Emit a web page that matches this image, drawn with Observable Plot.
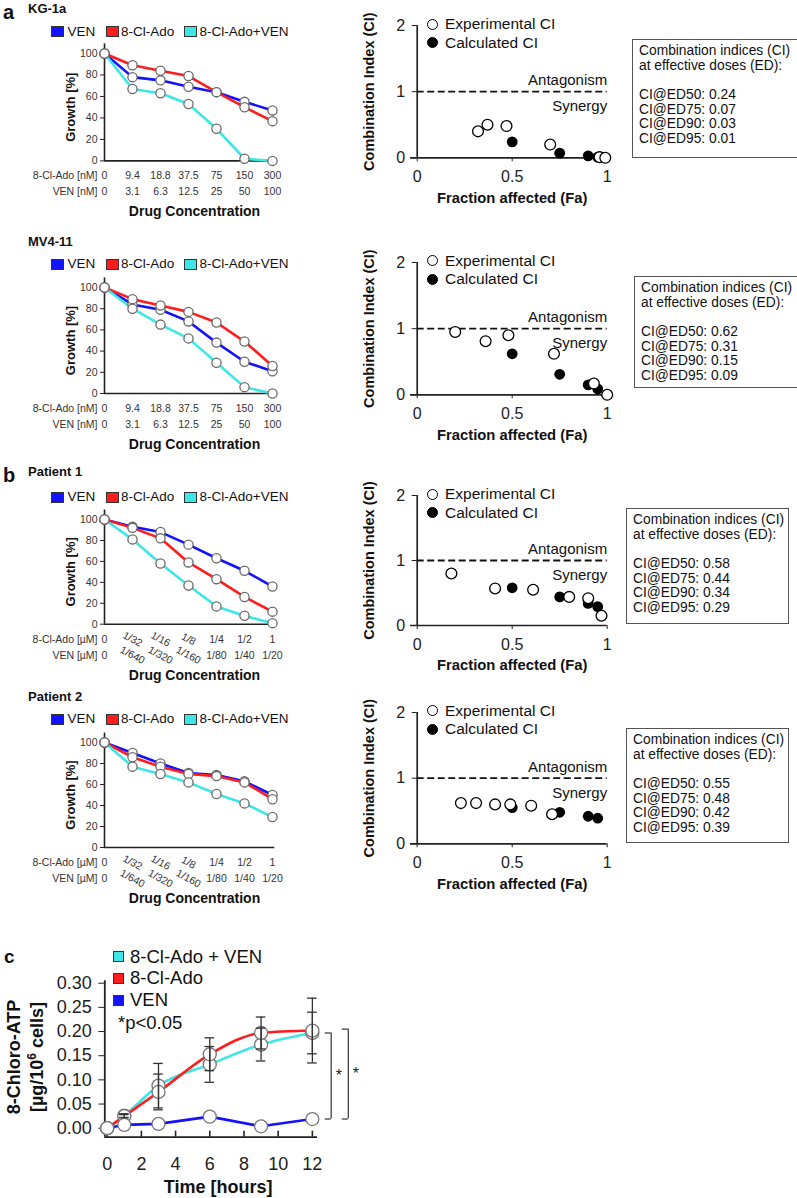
<!DOCTYPE html>
<html>
<head>
<meta charset="utf-8">
<script src="https://cdn.jsdelivr.net/npm/d3@7"></script>
<script src="https://cdn.jsdelivr.net/npm/@observablehq/plot@0.6"></script>
<style>
html,body{margin:0;padding:0;background:#fff;}
#fig{position:relative;width:797px;height:1198px;overflow:hidden;font-family:Arial,"Liberation Sans",Helvetica,sans-serif;color:#111;}
#fig .t{position:absolute;white-space:nowrap;transform:translateY(-50%);line-height:1.15;}
#fig .p{position:absolute;}
.sw{position:absolute;box-sizing:border-box;border:1px solid #333;}
.box{position:absolute;box-sizing:border-box;border:1.5px solid #555;font-size:13.8px;line-height:14.6px;padding:4.4px 0 0 6px;white-space:nowrap;}
.circ{position:absolute;box-sizing:border-box;border-radius:50%;border:1.4px solid #000;}
</style>
</head>
<body>
<div id="fig"></div>
<script>
// ================= DATA =================
const seriesNames = ["VEN", "8-Cl-Ado", "8-Cl-Ado+VEN"];
const seriesColors = ["#1212ff", "#ff1c1c", "#3fe6e6"];

const kgAdoLabels = ["0", "9.4", "18.8", "37.5", "75", "150", "300"];
const kgVenLabels = ["0", "3.1", "6.3", "12.5", "25", "50", "100"];
const ptAdoLabels = ["0", "1/32", "1/16", "1/8", "1/4", "1/2", "1"];
const ptVenLabels = ["0", "1/640", "1/320", "1/160", "1/80", "1/40", "1/20"];

// Growth [%]
const kg1aVEN   = [100, 78, 75, 69, 64, 55, 47];
const kg1aAdo   = [100, 89, 84, 79, 64, 50, 37];
const kg1aCombo = [100, 67, 63, 53, 30, 2, 0];
const mv411VEN   = [100, 84, 79, 68, 48, 30, 21];
const mv411Ado   = [100, 89, 83, 77, 67, 49, 26];
const mv411Combo = [100, 80, 65, 52, 29, 6, 0];
const pt1VEN   = [100, 93, 88, 76, 63, 51, 36];
const pt1Ado   = [100, 92, 82, 59, 43, 26, 12];
const pt1Combo = [100, 81, 58, 37, 17, 8, 1];
const pt2VEN   = [100, 90, 80, 71, 69, 63, 50];
const pt2Ado   = [100, 86, 77, 70, 68, 62, 46];
const pt2Combo = [100, 77, 70, 62, 51, 42, 29];

// Combination index: experimental (Fa, CI) and calculated at effective doses
const edLabels = ["ED50", "ED75", "ED90", "ED95"];
const edFa = [0.50, 0.75, 0.90, 0.95];
const kg1aExpFa = [0.32, 0.37, 0.47, 0.70, 0.96, 0.99];
const kg1aExpCI = [0.40, 0.50, 0.48, 0.20, 0.01, 0.00];
const kg1aCalcCI = [0.24, 0.07, 0.03, 0.01];
const mv411ExpFa = [0.20, 0.36, 0.48, 0.72, 0.93, 1.00];
const mv411ExpCI = [0.95, 0.81, 0.90, 0.62, 0.17, 0.00];
const mv411CalcCI = [0.62, 0.31, 0.15, 0.09];
const pt1ExpFa = [0.18, 0.41, 0.61, 0.80, 0.90, 0.97];
const pt1ExpCI = [0.80, 0.57, 0.55, 0.44, 0.42, 0.15];
const pt1CalcCI = [0.58, 0.44, 0.34, 0.29];
const pt2ExpFa = [0.23, 0.31, 0.41, 0.49, 0.60, 0.71];
const pt2ExpCI = [0.62, 0.62, 0.60, 0.60, 0.58, 0.45];
const pt2CalcCI = [0.55, 0.48, 0.42, 0.39];

// Panel c: 8-Chloro-ATP [ug/10^6 cells]
const cTime = [0, 1, 3, 6, 9, 12];
const cSeries = ["8-Cl-Ado + VEN", "8-Cl-Ado", "VEN"];
const cColors = ["#3fe6e6", "#ff1c1c", "#1212ff"];
const cComboMean = [0, 0.026, 0.088, 0.132, 0.173, 0.197];
const cComboErr  = [0, 0.004, 0.046, 0.037, 0.034, 0.043];
const cAdoMean   = [0, 0.025, 0.075, 0.153, 0.197, 0.202];
const cAdoErr    = [0, 0.003, 0.037, 0.034, 0.033, 0.067];
const cVenMean   = [0, 0.007, 0.009, 0.024, 0.004, 0.019];
const cVenErr    = [0, 0, 0, 0, 0, 0];
const sigBrackets = [{x: 13.1, lo: 0.019, hi: 0.197, label: "*"}, {x: 14.1, lo: 0.019, hi: 0.205, label: "*"}];

// ================= HELPERS =================
const fig = document.getElementById("fig");
const FONT = 'Arial, "Liberation Sans", Helvetica, sans-serif';
const baseStyle = {fontFamily: FONT, background: "transparent", overflow: "visible", color: "#111"};
function addText(html, x, cy, css = {}) {
  const d = document.createElement("div");
  d.className = "t";
  d.style.left = x + "px"; d.style.top = cy + "px";
  Object.assign(d.style, css);
  d.innerHTML = html; fig.appendChild(d); return d;
}
function addEl(cls, css) {
  const d = document.createElement("div");
  d.className = cls; Object.assign(d.style, css); fig.appendChild(d); return d;
}
function addPlot(svg, left, top) {
  const d = document.createElement("div");
  d.className = "p"; d.style.left = left + "px"; d.style.top = top + "px";
  d.appendChild(svg); fig.appendChild(d);
}

// ================= GROWTH PANELS =================
function growthPanel(cfg) {
  const {title, letter, titleY, legendY, y100, y0, vals, adoLab, venLab, unit, rot} = cfg;
  if (letter) addText(letter, 3, titleY + 3, {fontWeight: "bold", fontSize: "20px", lineHeight: "20px"});
  addText(title, 28, titleY + 0.5, {fontWeight: "bold", fontSize: "13px"});
  const swx = [51, 105.5, 183.5], tx = [67.5, 121, 199.5];
  seriesNames.forEach((n, k) => {
    addEl("sw", {left: swx[k] + "px", top: (legendY - 5.5) + "px", width: "13px", height: "11px", background: seriesColors[k]});
    addText(n, tx[k], legendY, {fontSize: "13.5px"});
  });
  const mt = 15, mb = 62;
  const pts = [];
  vals.forEach((arr, s) => arr.forEach((v, i) => pts.push({s: seriesNames[s], i, v})));
  const ticks = adoLab.map((a, i) => ({i, a, v: venLab[i], r: rot && i >= 1 && i <= 3 ? 28 : 0}));
  const tf = {fontSize: 10.5, fill: "#333", lineAnchor: "middle"};
  const svg = Plot.plot({
    width: 290, height: mt + (y0 - y100) + mb,
    marginLeft: 104, marginRight: 18, marginTop: mt, marginBottom: mb,
    style: baseStyle,
    x: {domain: [0, 6], axis: null},
    y: {domain: [0, 100], axis: null},
    color: {domain: seriesNames, range: seriesColors},
    marks: [
      Plot.axisY({ticks: [0, 20, 40, 60, 80, 100], tickSize: 4, tickPadding: 3, label: null, stroke: "#222", fontSize: 10.5, fill: "#333"}),
      Plot.ruleX([0], {y1: 0, y2: 109, stroke: "#222", strokeWidth: 1.6}),
      Plot.ruleY([0], {x1: 0, x2: 6.08, stroke: "#222", strokeWidth: 1.6}),
      Plot.line(pts, {x: "i", y: "v", z: "s", stroke: "s", strokeWidth: 2.6}),
      Plot.dot(pts, {x: "i", y: "v", r: 4.6, fill: "#fff", stroke: "#6a6a6a", strokeWidth: 1.3}),
      Plot.text(ticks, {x: "i", text: "a", frameAnchor: "bottom", dy: 15, rotate: "r", ...tf}),
      Plot.text(ticks, {x: "i", text: "v", frameAnchor: "bottom", dy: 31, rotate: "r", ...tf}),
      Plot.text([`8-Cl-Ado [${unit}]`], {x: 0, frameAnchor: "bottom", dy: 15, dx: -7, textAnchor: "end", ...tf}),
      Plot.text([`VEN [${unit}]`], {x: 0, frameAnchor: "bottom", dy: 31, dx: -7, textAnchor: "end", ...tf}),
      Plot.text(["Drug Concentration"], {frameAnchor: "bottom", dy: 51, dx: 6, lineAnchor: "middle", textAnchor: "middle", fontWeight: "bold", fontSize: 14, fill: "#111"}),
      Plot.text(["Growth [%]"], {frameAnchor: "left", dx: -34, rotate: -90, textAnchor: "middle", lineAnchor: "middle", fontWeight: "bold", fontSize: 13, fill: "#111"})
    ]
  });
  addPlot(svg, 0, y100 - mt);
}

// ================= CI PANELS =================
function ciPanel(cfg) {
  const {y2, y0, expFa, expCI, calcCI, box} = cfg;
  const mt = 20, mb = 55;
  const exp = expFa.map((fa, i) => ({fa, ci: expCI[i]}));
  const calc = edFa.map((fa, i) => ({fa, ci: calcCI[i]}));
  const svg = Plot.plot({
    width: 270, height: mt + (y0 - y2) + mb,
    marginLeft: 56.7, marginRight: 23.3, marginTop: mt, marginBottom: mb,
    style: baseStyle,
    x: {domain: [0, 1]},
    y: {domain: [0, 2]},
    marks: [
      Plot.axisY({ticks: [0, 1, 2], tickFormat: d => String(d), tickSize: 5, tickPadding: 7, fontSize: 16, label: null, stroke: "#222", fill: "#222"}),
      Plot.axisX({ticks: [0, 0.5, 1], tickFormat: d => String(d), tickSize: 4, tickPadding: 9, fontSize: 16, label: null, stroke: "#222", fill: "#222"}),
      Plot.ruleX([0], {y1: 0, y2: 2, stroke: "#222", strokeWidth: 1.7}),
      Plot.ruleY([0], {x1: -0.035, x2: 1.0, stroke: "#222", strokeWidth: 1.7}),
      Plot.ruleY([1], {x1: 0, x2: 1, stroke: "#111", strokeWidth: 1.8, strokeDasharray: "7,3.5"}),
      Plot.text(["Antagonism"], {x: 1, y: 1, dy: -11, textAnchor: "end", fontSize: 15, fill: "#111"}),
      Plot.text(["Synergy"], {x: 1, y: 1, dy: 15, textAnchor: "end", fontSize: 15, fill: "#111"}),
      Plot.dot(calc, {x: "fa", y: "ci", r: 5.4, fill: "#000"}),
      Plot.dot(exp, {x: "fa", y: "ci", r: 5.4, fill: "#fff", stroke: "#000", strokeWidth: 1.3}),
      Plot.text(["Combination Index (CI)"], {frameAnchor: "left", dx: -47.7, rotate: -90, textAnchor: "middle", lineAnchor: "middle", fontWeight: "bold", fontSize: 14.5, fill: "#111"}),
      Plot.text(["Fraction affected (Fa)"], {frameAnchor: "bottom", dy: 40, textAnchor: "middle", lineAnchor: "middle", fontWeight: "bold", fontSize: 14.8, fill: "#111"})
    ]
  });
  addPlot(svg, 360, y2 - mt);
  // legend
  addEl("circ", {left: (432 - 5.5) + "px", top: (y2 - 1 - 5.5) + "px", width: "11px", height: "11px", background: "#fff"});
  addText("Experimental CI", 445, y2 - 1, {fontSize: "15.5px"});
  addEl("circ", {left: (432 - 5.5) + "px", top: (y2 + 17.5 - 5.5) + "px", width: "11px", height: "11px", background: "#000"});
  addText("Calculated CI", 445, y2 + 17.5, {fontSize: "15.5px"});
  // box
  const b = addEl("box", {left: box[0] + "px", top: box[1] + "px", width: box[2] + "px", height: box[3] + "px"});
  b.innerHTML = "Combination indices (CI)<br>at effective doses (ED):<br><br>" +
    edLabels.map((e, i) => `CI@${e}: ${calcCI[i].toFixed(2)}`).join("<br>");
}

growthPanel({title: "KG-1a", letter: "a", titleY: 8.5, legendY: 31.7, y100: 53.3, y0: 160.7,
  vals: [kg1aVEN, kg1aAdo, kg1aCombo], adoLab: kgAdoLabels, venLab: kgVenLabels, unit: "nM", rot: false});
growthPanel({title: "MV4-11", letter: null, titleY: 241.7, legendY: 264.2, y100: 287.3, y0: 393.3,
  vals: [mv411VEN, mv411Ado, mv411Combo], adoLab: kgAdoLabels, venLab: kgVenLabels, unit: "nM", rot: false});
growthPanel({title: "Patient 1", letter: "b", titleY: 471.7, legendY: 497, y100: 519.3, y0: 624,
  vals: [pt1VEN, pt1Ado, pt1Combo], adoLab: ptAdoLabels, venLab: ptVenLabels, unit: "µM", rot: true});
growthPanel({title: "Patient 2", letter: null, titleY: 696.7, legendY: 719, y100: 742.3, y0: 847.3,
  vals: [pt2VEN, pt2Ado, pt2Combo], adoLab: ptAdoLabels, venLab: ptVenLabels, unit: "µM", rot: true});

ciPanel({y2: 25, y0: 157.3, expFa: kg1aExpFa, expCI: kg1aExpCI, calcCI: kg1aCalcCI, box: [632, 39, 172, 119]});
ciPanel({y2: 261.7, y0: 394, expFa: mv411ExpFa, expCI: mv411ExpCI, calcCI: mv411CalcCI, box: [634, 276, 172, 112]});
ciPanel({y2: 495, y0: 625, expFa: pt1ExpFa, expCI: pt1ExpCI, calcCI: pt1CalcCI, box: [626, 508, 163, 116]});
ciPanel({y2: 711.7, y0: 843, expFa: pt2ExpFa, expCI: pt2ExpCI, calcCI: pt2CalcCI, box: [626, 728, 163, 115]});

// ================= PANEL C =================
(function () {
  addText("c", 4, 956.7, {fontWeight: "bold", fontSize: "19px"});
  const legY = [956.7, 978.3, 1000];
  cSeries.forEach((n, k) => {
    addEl("sw", {left: "112.5px", top: (legY[k] - 5.5) + "px", width: "11px", height: "11px", background: cColors[k]});
    addText(n, 130, legY[k], {fontSize: "18.5px"});
  });
  addText("*p&lt;0.05", 118, 1023.3, {fontSize: "18.5px"});
  const yt = addEl("t", {left: "26px", top: "1057px", fontWeight: "bold", fontSize: "18px", lineHeight: "23px",
    textAlign: "center", transform: "translate(-50%,-50%) rotate(-90deg)"});
  yt.innerHTML = "8-Chloro-ATP<br>[µg/10<sup style='font-size:12px;line-height:0'>6</sup> cells]";

  const means = [cComboMean, cAdoMean, cVenMean], errs = [cComboErr, cAdoErr, cVenErr];
  const rows = [];
  cSeries.forEach((s, k) => cTime.forEach((t, i) => rows.push({s, t, v: means[k][i], e: errs[k][i]})));
  const eb = rows.filter(d => d.e > 0);
  const top = 940, mt = 42.7, mb = 61.3;
  const arms = sigBrackets.flatMap(b => [{x1: b.x - 0.35, x2: b.x, y: b.lo}, {x1: b.x - 0.35, x2: b.x, y: b.hi}]);
  const svg = Plot.plot({
    width: 400, height: 1198 - top,
    marginLeft: 104.3, marginRight: 83, marginTop: mt, marginBottom: mb,
    style: baseStyle,
    x: {domain: [-0.14, 12.3]},
    y: {domain: [-0.0186, 0.3]},
    color: {domain: cSeries, range: cColors},
    marks: [
      Plot.axisY({ticks: [0, 0.05, 0.1, 0.15, 0.2, 0.25, 0.3], tickFormat: d3.format(".2f"), tickSize: 6, tickPadding: 7,
        fontSize: 18, label: null, stroke: "#222", fill: "#222"}),
      Plot.axisX({ticks: [0, 2, 4, 6, 8, 10, 12], tickSize: 0, tickPadding: 20, fontSize: 18, label: null, fill: "#222"}),
      Plot.ruleX([0, 2, 4, 6, 8, 10, 12], {y1: -0.0186, y2: -0.0186 + 6 / 483, stroke: "#222", strokeWidth: 1.6}),
      Plot.ruleX([-0.14], {y1: -0.0186, y2: 0.305, stroke: "#222", strokeWidth: 1.8}),
      Plot.ruleY([-0.0186], {x1: -0.14, x2: 12.3, stroke: "#222", strokeWidth: 1.8}),
      Plot.line(rows.filter(d => d.s !== "VEN"), {x: "t", y: "v", z: "s", stroke: "s", strokeWidth: 2.6, curve: "monotone-x"}),
      Plot.line(rows.filter(d => d.s === "VEN"), {x: "t", y: "v", stroke: "s", strokeWidth: 2.6}),
      Plot.dot(rows, {x: "t", y: "v", r: 6.5, fill: "#fff", stroke: "#777", strokeWidth: 1.3}),
      Plot.ruleX(eb, {x: "t", y1: d => d.v - d.e, y2: d => d.v + d.e, stroke: "#333", strokeWidth: 1.3}),
      Plot.ruleY(eb, {y: d => d.v + d.e, x1: d => d.t - 0.28, x2: d => d.t + 0.28, stroke: "#333", strokeWidth: 1.3}),
      Plot.ruleY(eb, {y: d => d.v - d.e, x1: d => d.t - 0.28, x2: d => d.t + 0.28, stroke: "#333", strokeWidth: 1.3}),
      Plot.ruleX(sigBrackets, {x: "x", y1: "lo", y2: "hi", stroke: "#333", strokeWidth: 1.2}),
      Plot.ruleY(arms, {y: "y", x1: "x1", x2: "x2", stroke: "#333", strokeWidth: 1.2}),
      Plot.text(sigBrackets, {x: d => d.x + 0.45, y: d => (d.lo + d.hi) / 2, text: "label", fontSize: 16, fill: "#222"}),
      Plot.text(["Time [hours]"], {frameAnchor: "bottom", dy: 50, dx: 7, textAnchor: "middle", lineAnchor: "middle", fontWeight: "bold", fontSize: 18, fill: "#111"})
    ]
  });
  addPlot(svg, 0, top);
})();
</script>
</body>
</html>
